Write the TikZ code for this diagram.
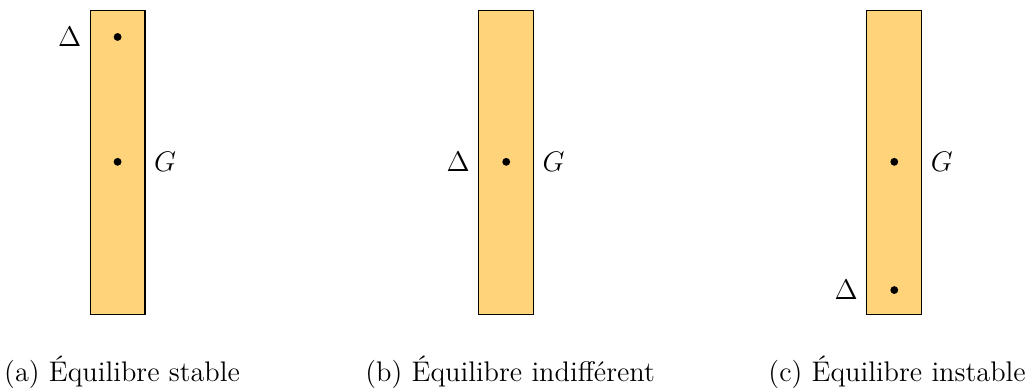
\documentclass[tikz,border=0pt]{standalone}
\usepackage{xcolor}
\usepackage{amsmath}
\usepackage{tikz}
\usetikzlibrary{positioning}

\definecolor{tige}{RGB}{255,211,122}
\tikzset{
    barre/.style={fill=tige, draw=black, line width=0.6pt},
    point/.style={circle, fill=black, inner sep=0pt, minimum size=0.14cm},
    legende/.style={font=\Large, anchor=base}
}

\begin{document}
\begin{tikzpicture}
    \useasboundingbox (0,0) rectangle (18.34,6.98);

    % Stable
    \draw[barre] (1.61,1.36) rectangle (2.59,6.79);
    \node[point] (deltaA) at (2.10,6.32) {};
    \node[point] (gA) at (2.10,4.09) {};
    \node[left=0.45cm of deltaA, font=\Large] (labdeltaA) {$\Delta$};
    \node[right=0.45cm of gA, font=\Large] (labgA) {$G$};
    \node[legende] (legA) at (2.18,0.16) {(a) Équilibre stable};

    % Indifferent
    \draw[barre] (8.55,1.36) rectangle (9.53,6.79);
    \node[point] (gB) at (9.04,4.09) {};
    \node[left=0.45cm of gB, font=\Large] (labdeltaB) {$\Delta$};
    \node[right=0.45cm of gB, font=\Large] (labgB) {$G$};
    \node[legende] (legB) at (9.11,0.16) {(b) Équilibre indifférent};

    % Instable
    \draw[barre] (15.48,1.36) rectangle (16.46,6.79);
    \node[point] (gC) at (15.97,4.09) {};
    \node[point] (deltaC) at (15.97,1.80) {};
    \node[left=0.45cm of deltaC, font=\Large] (labdeltaC) {$\Delta$};
    \node[right=0.45cm of gC, font=\Large] (labgC) {$G$};
    \node[legende] (legC) at (16.02,0.16) {(c) Équilibre instable};
\end{tikzpicture}
\end{document}
